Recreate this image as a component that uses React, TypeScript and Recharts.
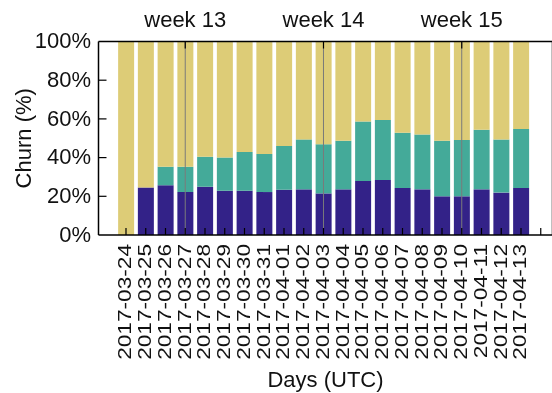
import React from 'react';
import { Bar, BarChart, ReferenceLine, XAxis, YAxis } from 'recharts';

const FONT = '"Liberation Sans", Arial, Helvetica, sans-serif';

// one bar per day, three stacked shares in percent
const days = [
  '2017-03-24', '2017-03-25', '2017-03-26', '2017-03-27', '2017-03-28', '2017-03-29', '2017-03-30',
  '2017-03-31', '2017-04-01', '2017-04-02', '2017-04-03', '2017-04-04', '2017-04-05', '2017-04-06',
  '2017-04-07', '2017-04-08', '2017-04-09', '2017-04-10', '2017-04-11', '2017-04-12', '2017-04-13',
];
const lowShare = [0, 24.6, 25.7, 22.2, 25.0, 22.9, 22.9, 22.2, 23.4, 23.6, 21.5, 23.6, 27.9, 28.4, 24.3, 23.6, 20.0, 20.0, 23.6, 21.9, 24.3];
const midShare = [0, 0, 9.6, 13.1, 15.5, 17.1, 20.0, 19.7, 22.6, 25.8, 25.4, 25.1, 30.7, 31.0, 28.6, 28.4, 28.7, 29.1, 30.8, 27.5, 30.5];
const restShare = [100, 75.4, 64.7, 64.7, 59.5, 60.0, 57.1, 58.1, 54.0, 50.6, 53.1, 51.3, 41.4, 40.6, 47.1, 48.0, 51.3, 50.9, 45.6, 50.6, 45.2];

const weekStarts = [3, 10, 17];
const weekLabels = ['week 13', 'week 14', 'week 15'];
const pctTicks = [0, 20, 40, 60, 80, 100];

const data = days.map((day, i) => ({
  i,
  day,
  low: lowShare[i],
  mid: midShare[i],
  rest: restShare[i],
}));

// one extra empty slot after the last day, like the original plot
const dayTicks = Array.from({ length: days.length + 1 }, (_, i) => i);

const textProps = { fontSize: 22, fontFamily: FONT, fill: '#111' };

function DayTick(props: any) {
  const { x, y, payload } = props;
  const label = days[payload.value];
  return (
    <g>
      <line x1={x} y1={y} x2={x} y2={y - 7} stroke="#000" strokeWidth={1.2} />
      {label && (
        // rotated date, set a little narrower so the columns keep some air between them
        <text
          x={0}
          y={0}
          dy="0.35em"
          textAnchor="end"
          transform={`translate(${x - 1} ${y + 9}) rotate(-90) scale(1.03 0.82)`}
          {...textProps}
        >
          {label}
        </text>
      )}
    </g>
  );
}

function WeekTick(props: any) {
  const { x, y, payload } = props;
  const label = weekLabels[weekStarts.indexOf(payload.value)];
  return (
    <g>
      <line x1={x} y1={y} x2={x} y2={y + 7} stroke="#000" strokeWidth={1.2} />
      <text x={x} y={y - 15} textAnchor="middle" {...textProps}>
        {label}
      </text>
    </g>
  );
}

function PctTick(props: any) {
  const { x, y, payload } = props;
  const inner = payload.value > 0 && payload.value < 100;
  return (
    <g>
      {inner && <line x1={x} y1={y} x2={x + 8} y2={y} stroke="#000" strokeWidth={1.2} />}
      <text x={x - 7.5} y={y - 1} dy="0.35em" textAnchor="end" {...textProps}>
        {`${payload.value}%`}
      </text>
    </g>
  );
}

function RightTick(props: any) {
  const { x, y, payload } = props;
  if (payload.value <= 0 || payload.value >= 100) return <g />;
  return <line x1={x} y1={y} x2={x - 9} y2={y} stroke="#000" strokeWidth={1.2} />;
}

function ChurnLabel({ viewBox }: any) {
  const cx = viewBox.x + 15;
  const cy = viewBox.y + viewBox.height / 2;
  return (
    <text x={cx} y={cy} dy="0.35em" textAnchor="middle" transform={`rotate(-90 ${cx} ${cy})`} {...textProps}>
      Churn (%)
    </text>
  );
}

function DaysLabel({ viewBox }: any) {
  const cx = viewBox.x + viewBox.width / 2;
  return (
    <text x={cx} y={viewBox.y + 151.5} textAnchor="middle" {...textProps}>
      Days (UTC)
    </text>
  );
}

const axisLine = { stroke: '#000', strokeWidth: 1.5 };
const xDomain = [-1.392, 21.595];

export default function App() {
  return (
    <div style={{ position: 'fixed', left: 8, top: 8, width: 544, height: 385, overflow: 'hidden' }}>
      <BarChart width={560} height={385} data={data} margin={{ top: 3.5, right: 0, bottom: 0, left: 0 }}>
        <Bar dataKey="low" stackId="a" xAxisId="bottom" yAxisId="left" fill="#332288" barSize={16} isAnimationActive={false} />
        <Bar dataKey="mid" stackId="a" xAxisId="bottom" yAxisId="left" fill="#44AA99" barSize={16} isAnimationActive={false} />
        <Bar dataKey="rest" stackId="a" xAxisId="bottom" yAxisId="left" fill="#DDCC77" barSize={16} isAnimationActive={false} />
        {weekStarts.map((w) => (
          <ReferenceLine key={w} x={w} xAxisId="bottom" yAxisId="left" stroke="#7a7a7a" strokeWidth={1} />
        ))}
        <XAxis
          xAxisId="bottom"
          dataKey="i"
          type="number"
          domain={xDomain}
          allowDataOverflow
          ticks={dayTicks}
          interval={0}
          height={158}
          tickSize={0}
          tickMargin={0}
          tickLine={false}
          axisLine={axisLine}
          tick={DayTick}
          label={DaysLabel}
        />
        <XAxis
          xAxisId="top"
          dataKey="i"
          orientation="top"
          type="number"
          domain={xDomain}
          allowDataOverflow
          ticks={weekStarts}
          interval={0}
          height={30}
          tickSize={0}
          tickMargin={0}
          tickLine={false}
          axisLine={axisLine}
          tick={WeekTick}
        />
        <YAxis
          yAxisId="left"
          type="number"
          domain={[0, 100]}
          ticks={pctTicks}
          interval={0}
          width={90.5}
          tickSize={0}
          tickMargin={0}
          tickLine={false}
          axisLine={axisLine}
          tick={PctTick}
          label={ChurnLabel}
        />
        <YAxis
          yAxisId="right"
          orientation="right"
          type="number"
          domain={[0, 100]}
          ticks={pctTicks}
          interval={0}
          width={15.5}
          tickSize={0}
          tickMargin={0}
          tickLine={false}
          axisLine={axisLine}
          tick={RightTick}
        />
      </BarChart>
    </div>
  );
}
